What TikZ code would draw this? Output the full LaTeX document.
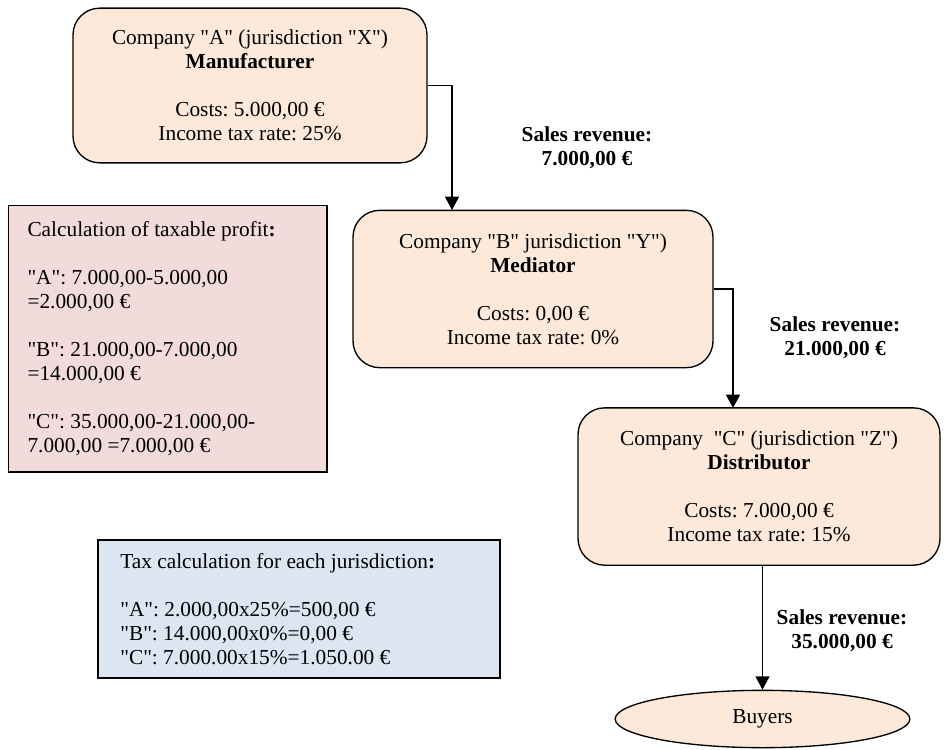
\documentclass[tikz,border=0pt]{standalone}
\usepackage{fontspec}
\setmainfont{Liberation Serif}[Ligatures=TeXOff]
\usepackage{xcolor}
\usetikzlibrary{arrows.meta,shapes.geometric}
\definecolor{peach}{HTML}{FCE9DA}
\definecolor{rosebox}{HTML}{F2DCDB}
\definecolor{bluebox}{HTML}{DCE6F2}
\frenchspacing

\begin{document}
\begin{tikzpicture}[x=0.75pt,y=-0.75pt,
    every node/.style={font=\fontsize{16}{18}\selectfont},
    company/.style={draw,line width=1pt,rounded corners=20pt,fill=peach,
        minimum width=270pt,minimum height=118pt,align=center},
    calcbox/.style={draw,line width=1pt,align=flush left},
    revenue/.style={font=\fontsize{16}{18}\selectfont\bfseries,align=center},
    flow/.style={line width=1.1pt,-{Triangle[width=10.5pt,length=10pt]}}]
        \useasboundingbox (0,0) rectangle (945,749);

        % Draw the three companies
        \node[company,minimum width=265.5pt,minimum height=116pt] (A) at (250,85.5)
            {Company "A" (jurisdiction "X")\\\textbf{Manufacturer}\\[18pt]Costs: 5.000,00 €\\Income tax rate: 25\%};
        \node[company] (B) at (533,289)
            {Company "B" jurisdiction "Y")\\\textbf{Mediator}\\[18pt]Costs: 0,00 €\\Income tax rate: 0\%};
        \node[company,minimum width=271.5pt] (C) at (759,486.5)
            {Company\ \ "C" (jurisdiction "Z")\\\textbf{Distributor}\\[18pt]Costs: 7.000,00 €\\Income tax rate: 15\%};
        \node[ellipse,draw,line width=1pt,fill=peach,minimum width=221pt,minimum height=43pt] (buyers) at (762.5,719) {Buyers};

        % Calculation boxes
        \node[calcbox,fill=rosebox,minimum width=239pt,minimum height=200pt,text width=210pt] (profit) at (167.5,338.5)
            {Calculation of taxable profit\textbf{:}\\[18pt]
             "A": 7.000,00-5.000,00\\=2.000,00 €\\[18pt]
             "B": 21.000,00-7.000,00\\=14.000,00 €\\[18pt]
             "C": 35.000,00-21.000,00-\\7.000,00 =7.000,00 €};
        \node[calcbox,fill=bluebox,minimum width=301.5pt,minimum height=103.5pt,text width=268pt] (tax) at (299,609)
            {Tax calculation for each jurisdiction\textbf{:}\\[18pt]
             "A": 2.000,00x25\%=500,00 €\\
             "B": 14.000,00x0\%=0,00 €\\
             "C": 7.000.00x15\%=1.050.00 €};

        % Sales revenue labels
        \node[revenue] (revA) at (587,147.5) {Sales revenue:\\7.000,00 €};
        \node[revenue] (revB) at (835,337.5) {Sales revenue:\\21.000,00 €};
        \node[revenue] (revC) at (842,630.5) {Sales revenue:\\35.000,00 €};

        % Arrows between the companies
        \coordinate (AB) at (452,210);
        \coordinate (BC) at (733,408);
        \draw[flow] (A.east) -| (AB);
        \draw[flow] (B.east) -| (BC);
        \draw[flow] (buyers.north |- C.south) -- (buyers.north);
    \end{tikzpicture}
\end{document}
